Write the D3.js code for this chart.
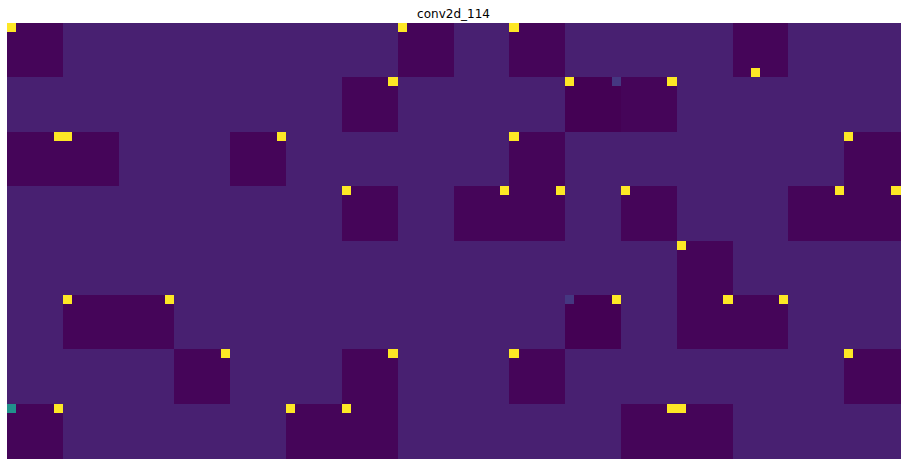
<!DOCTYPE html>
<html>
<head>
<meta charset="utf-8">
<script src="https://cdn.jsdelivr.net/npm/d3@7"></script>
<style>
  html, body { margin: 0; padding: 0; background: #fff; }
  svg { display: block; }
</style>
</head>
<body>
<svg id="chart" width="907" height="465"></svg>
<script>
// ---- data ----
const title = "conv2d_114";
const nRows = 48;
const nCols = 96;
const blockSize = 6;
const backgroundValue = 0.086;
const darkValue = 0.015;
const darkerValue = 0.0;
// [blockRow, blockCol]
const darkBlocks = [
  [0,0],[0,7],[0,9],[0,13],
  [1,6],[1,11],
  [2,0],[2,1],[2,4],[2,9],[2,15],
  [3,6],[3,8],[3,9],[3,11],[3,14],[3,15],
  [4,12],
  [5,1],[5,2],[5,12],[5,13],
  [6,3],[6,6],[6,9],[6,15],
  [7,0],[7,5],[7,6],[7,11],[7,12]
];
const darkerBlocks = [[1,10],[5,10]];
// [row, col] cells at maximum value
const hotCells = [
  [0,0],[0,42],[0,54],[5,80],
  [6,41],[6,60],[6,71],
  [12,5],[12,6],[12,29],[12,54],[12,90],
  [18,36],[18,53],[18,59],[18,66],[18,89],[18,95],
  [24,72],
  [30,6],[30,17],[30,65],[30,77],[30,83],
  [36,23],[36,41],[36,54],[36,90],
  [42,5],[42,30],[42,36],[42,71],[42,72]
];
// [row, col, value]
const midCells = [[6,65,0.16],[30,60,0.16],[42,0,0.5]];

// ---- build matrix ----
const matrix = d3.range(nRows).map(() => d3.range(nCols).map(() => backgroundValue));
function fillBlock(br, bc, v) {
  for (let r = br*blockSize; r < (br+1)*blockSize; r++)
    for (let c = bc*blockSize; c < (bc+1)*blockSize; c++) matrix[r][c] = v;
}
darkBlocks.forEach(([br, bc]) => fillBlock(br, bc, darkValue));
darkerBlocks.forEach(([br, bc]) => fillBlock(br, bc, darkerValue));
hotCells.forEach(([r, c]) => { matrix[r][c] = 1; });
midCells.forEach(([r, c, v]) => { matrix[r][c] = v; });

const cells = [];
matrix.forEach((row, r) => row.forEach((v, c) => cells.push({r, c, v})));

// ---- draw ----
const svg = d3.select("#chart");
const margin = {left: 7, right: 7, top: 23, bottom: 7};
const W = +svg.attr("width"), H = +svg.attr("height");
const x = d3.scaleLinear().domain([0, nCols]).range([margin.left, W - margin.right]);
const y = d3.scaleLinear().domain([0, nRows]).range([margin.top, H - margin.bottom]);
const color = d3.scaleSequential(d3.interpolateViridis).domain([0, 1]);

svg.append("g")
  .attr("shape-rendering", "crispEdges")
  .selectAll("rect")
  .data(cells)
  .join("rect")
  .attr("x", d => x(d.c))
  .attr("y", d => y(d.r))
  .attr("width", d => x(d.c + 1) - x(d.c) + 0.5)
  .attr("height", d => y(d.r + 1) - y(d.r) + 0.5)
  .attr("fill", d => color(d.v));

svg.append("text")
  .attr("x", (x(0) + x(nCols)) / 2)
  .attr("y", 17.5)
  .attr("text-anchor", "middle")
  .attr("font-family", "DejaVu Sans, sans-serif")
  .attr("font-size", "12px")
  .attr("fill", "#000")
  .text(title);
</script>
</body>
</html>
